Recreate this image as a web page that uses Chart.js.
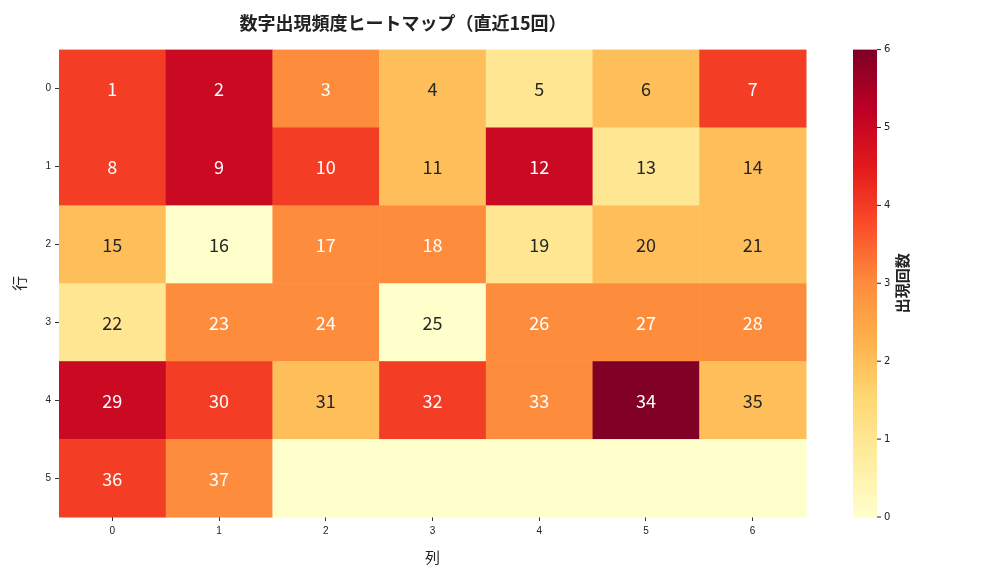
<!DOCTYPE html>
<html>
<head>
<meta charset="utf-8">
<script src="https://cdn.jsdelivr.net/npm/chart.js@4"></script>
<style>
  body { margin: 0; background: #fff; }
  #wrap { width: 1008px; height: 576px; }
</style>
</head>
<body>
<div id="wrap"><canvas id="heat"></canvas></div>
<script>
// counts per cell (rows 0..5, cols 0..6), null = empty cell
const rowLabels = ['0', '1', '2', '3', '4', '5'];
const colLabels = ['0', '1', '2', '3', '4', '5', '6'];
const row0 = [4, 5, 3, 2, 1, 2, 4];
const row1 = [4, 5, 4, 2, 5, 1, 2];
const row2 = [2, 0, 3, 3, 1, 2, 2];
const row3 = [1, 3, 3, 0, 3, 3, 3];
const row4 = [5, 4, 2, 4, 3, 6, 2];
const row5 = [4, 3, 0, 0, 0, 0, 0];
const numbers = [
  [1, 2, 3, 4, 5, 6, 7],
  [8, 9, 10, 11, 12, 13, 14],
  [15, 16, 17, 18, 19, 20, 21],
  [22, 23, 24, 25, 26, 27, 28],
  [29, 30, 31, 32, 33, 34, 35],
  [36, 37, null, null, null, null, null]
];
const cbTicks = [0, 1, 2, 3, 4, 5, 6];
const vmax = 6;

const stops = ['#ffffcc','#ffeda0','#fed976','#feb24c','#fd8d3c','#fc4e2a','#e31a1c','#bd0026','#800026'];
function hex(h) { return [1, 3, 5].map(i => parseInt(h.substr(i, 2), 16)); }
function ylorrd(t) {
  t = Math.max(0, Math.min(1, t)) * (stops.length - 1);
  const i = Math.min(Math.floor(t), stops.length - 2), f = t - i;
  const a = hex(stops[i]), b = hex(stops[i + 1]);
  return a.map((v, k) => Math.round(v + (b[k] - v) * f));
}

const rows = [row0, row1, row2, row3, row4, row5];
const points = [];
rows.forEach((r, ri) => r.forEach((v, ci) => {
  points.push({ x: ci + 0.5, y: ri + 0.5, v: v, n: numbers[ri][ci] });
}));

const heatPlugin = {
  id: 'heat',
  beforeDatasetsDraw(chart) {
    const ctx = chart.ctx, xs = chart.scales.x, ys = chart.scales.y;
    ctx.save();
    points.forEach(p => {
      const x0 = xs.getPixelForValue(p.x - 0.5), x1 = xs.getPixelForValue(p.x + 0.5);
      const y0 = ys.getPixelForValue(p.y - 0.5), y1 = ys.getPixelForValue(p.y + 0.5);
      const c = ylorrd(p.v / vmax);
      ctx.fillStyle = `rgb(${c[0]},${c[1]},${c[2]})`;
      ctx.fillRect(x0, y0, x1 - x0 + 0.5, y1 - y0 + 0.5);
      if (p.n !== null) {
        const lum = 0.299 * c[0] + 0.587 * c[1] + 0.114 * c[2];
        ctx.fillStyle = lum < 170 ? '#ffffff' : '#262626';
        ctx.font = '18px "Noto Sans CJK JP", "DejaVu Sans", sans-serif';
        ctx.textAlign = 'center';
        ctx.textBaseline = 'middle';
        ctx.fillText(String(p.n), (x0 + x1) / 2, (y0 + y1) / 2 + 1);
      }
    });
    // colorbar
    const cb = chart.scales.cb;
    const bx = 853, bw = 24;
    const top = cb.getPixelForValue(vmax), bot = cb.getPixelForValue(0);
    for (let y = top; y < bot; y++) {
      const c = ylorrd((bot - y) / (bot - top));
      ctx.fillStyle = `rgb(${c[0]},${c[1]},${c[2]})`;
      ctx.fillRect(bx, y, bw, 1.5);
    }
    ctx.fillStyle = '#222';
    ctx.strokeStyle = '#222';
    ctx.font = '10px "DejaVu Sans", sans-serif';
    ctx.textAlign = 'left';
    ctx.textBaseline = 'middle';
    cbTicks.forEach(t => {
      const y = cb.getPixelForValue(t);
      ctx.beginPath(); ctx.moveTo(bx + bw, y); ctx.lineTo(bx + bw + 4, y); ctx.stroke();
      ctx.fillText(String(t), bx + bw + 7, y);
    });
    ctx.translate(902, (top + bot) / 2);
    ctx.rotate(-Math.PI / 2);
    ctx.textAlign = 'center';
    ctx.font = 'bold 15px "Noto Sans CJK JP", sans-serif';
    ctx.fillText('出現回数', 0, 0);
    ctx.restore();
  }
};

new Chart(document.getElementById('heat'), {
  type: 'scatter',
  data: { datasets: [{ data: points, pointRadius: 0, pointHoverRadius: 0 }] },
  options: {
    responsive: true,
    maintainAspectRatio: false,
    animation: false,
    layout: { padding: { left: 0, right: 202, top: 0, bottom: 0 } },
    plugins: {
      legend: { display: false },
      tooltip: { enabled: false },
      title: {
        display: true,
        text: '数字出現頻度ヒートマップ（直近15回）',
        color: '#222',
        font: { size: 18, weight: 'bold', family: '"Noto Sans CJK JP", sans-serif' },
        padding: { top: 12, bottom: 16 }
      }
    },
    scales: {
      x: {
        type: 'linear', min: 0, max: 7,
        afterFit: s => { s.height = 59; },
        afterBuildTicks: s => { s.ticks = colLabels.map((l, i) => ({ value: i + 0.5 })); },
        ticks: { callback: (v) => colLabels[Math.floor(v)], color: '#222', font: { size: 10 }, maxRotation: 0, padding: 4 },
        grid: { display: true, drawOnChartArea: false, tickLength: 4, color: '#333' },
        border: { display: false },
        title: { display: true, text: '列', color: '#222', font: { size: 15, family: '"Noto Sans CJK JP", sans-serif' }, padding: { top: 4, bottom: 10 } }
      },
      y: {
        type: 'linear', min: 0, max: 6, reverse: true,
        afterFit: s => { s.width = 59; },
        afterBuildTicks: s => { s.ticks = rowLabels.map((l, i) => ({ value: i + 0.5 })); },
        ticks: { callback: (v) => rowLabels[Math.floor(v)], color: '#222', font: { size: 10 }, padding: 4 },
        grid: { display: true, drawOnChartArea: false, tickLength: 4, color: '#333' },
        border: { display: false },
        title: { display: true, text: '行', color: '#222', font: { size: 15, family: '"Noto Sans CJK JP", sans-serif' }, padding: { top: 10, bottom: 4 } }
      },
      cb: {
        type: 'linear', min: 0, max: 6, display: false, position: 'right'
      }
    }
  },
  plugins: [heatPlugin]
});
</script>
</body>
</html>
